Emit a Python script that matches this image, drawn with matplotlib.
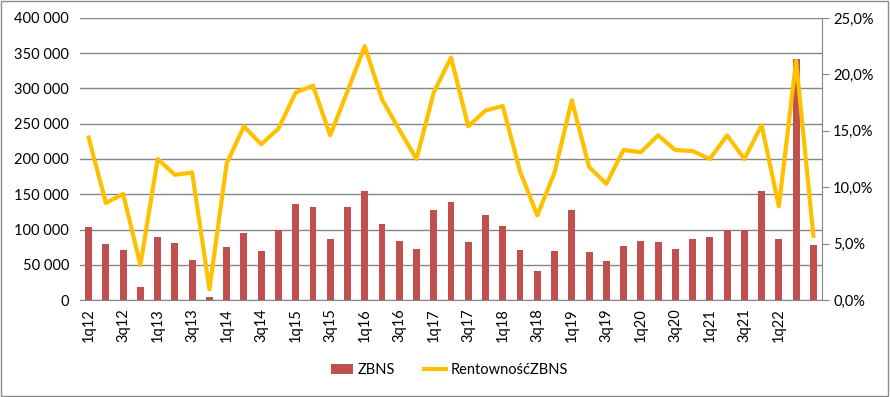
import numpy as np
import matplotlib.pyplot as plt
from matplotlib.ticker import FuncFormatter, MultipleLocator
from matplotlib.patches import Rectangle

plt.rcParams['font.family'] = ['Lato', 'DejaVu Sans']

quarters = ['%dq%d' % (q, y) for y in range(12, 23) for q in range(1, 5)][:43]

zbns = [104000, 79500, 71000, 18500, 89500, 81000, 57000, 4300, 75000, 95000,
        70000, 100000, 136000, 132000, 87000, 132000, 155000, 108000, 84000, 72000,
        128000, 139000, 82000, 121000, 105000, 71000, 41000, 70000, 128000, 68000,
        55000, 77000, 84000, 82000, 72000, 87000, 89500, 100000, 100000, 155000,
        87000, 342000, 78000]

rent = [14.4, 8.6, 9.4, 3.1, 12.5, 11.1, 11.3, 0.95, 12.1, 15.4,
        13.8, 15.2, 18.4, 19.0, 14.6, 18.5, 22.5, 17.8, 15.1, 12.5,
        18.4, 21.5, 15.4, 16.8, 17.2, 11.4, 7.5, 11.3, 17.7, 11.8,
        10.3, 13.3, 13.1, 14.6, 13.3, 13.2, 12.5, 14.6, 12.5, 15.5,
        8.3, 21.2, 5.7]

x = np.arange(len(quarters))

fig = plt.figure(figsize=(8.9, 3.97), dpi=100)
ax = fig.add_axes([0.0899, 0.2443, 0.8337, 0.7104])
ax2 = ax.twinx()

grid_c = '#868686'
bars = ax.bar(x, zbns, width=0.4, color='#C0504D', label='ZBNS', zorder=2)
ax.set_ylim(0, 400000)
ax.set_xlim(-0.5, len(quarters) - 0.5)
ax.yaxis.set_major_locator(MultipleLocator(50000))
ax.yaxis.set_major_formatter(FuncFormatter(lambda v, p: '{:,.0f}'.format(v).replace(',', ' ')))
ax.grid(axis='y', color=grid_c, lw=1, zorder=0)
ax.set_axisbelow(True)
# labels only up to 1q22, as in the source chart
ax.set_xticks(x[:41:2])
ax.set_xticklabels(quarters[:41:2], rotation=90)
ax.tick_params(axis='x', length=0, pad=6, labelsize=10.5)
ax.tick_params(axis='y', length=0, pad=8, labelsize=10.5)
for s in ['left', 'top', 'right']:
    ax.spines[s].set_visible(False)
ax.spines['bottom'].set_color(grid_c)

line, = ax2.plot(x, rent, color='#FFC000', lw=3, label='RentownośćZBNS', zorder=3)
ax2.set_ylim(0, 25)
ax2.yaxis.set_major_locator(MultipleLocator(5))
ax2.yaxis.set_major_formatter(FuncFormatter(lambda v, p: ('%.1f%%' % v).replace('.', ',')))
ax2.tick_params(axis='y', length=5, color=grid_c, direction='out', pad=3, labelsize=10.5)
for s in ['left', 'top', 'bottom']:
    ax2.spines[s].set_visible(False)
ax2.spines['right'].set_color(grid_c)

fig.legend([bars, line], ['ZBNS', 'RentownośćZBNS'], loc='center', ncol=2,
           bbox_to_anchor=(0.505, 0.068), frameon=False, fontsize=10.5,
           handlelength=1.5, columnspacing=2, handletextpad=0.3)

fig.patches.append(Rectangle((0.001, 0.002), 0.997, 0.995, transform=fig.transFigure,
                             fill=False, edgecolor='#8c8c8c', lw=1))

fig.savefig('out.png', dpi=100)
